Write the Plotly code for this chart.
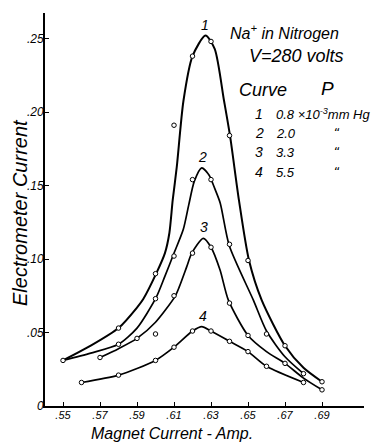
import plotly.graph_objects as go

# Measured points (markers)
c1_x = [0.55, 0.58, 0.60, 0.61, 0.62, 0.63, 0.64, 0.65, 0.67, 0.69]
c1_y = [0.031, 0.053, 0.090, 0.191, 0.238, 0.248, 0.184, 0.099, 0.041, 0.0165]
c2_x = [0.58, 0.60, 0.61, 0.62, 0.63, 0.64, 0.66, 0.68]
c2_y = [0.042, 0.073, 0.102, 0.154, 0.154, 0.110, 0.049, 0.022]
c3_x = [0.57, 0.59, 0.60, 0.61, 0.62, 0.63, 0.64, 0.65, 0.67, 0.69]
c3_y = [0.033, 0.046, 0.049, 0.075, 0.104, 0.108, 0.070, 0.048, 0.029, 0.011]
c4_x = [0.56, 0.58, 0.60, 0.61, 0.62, 0.63, 0.64, 0.65, 0.66, 0.68]
c4_y = [0.016, 0.021, 0.031, 0.040, 0.051, 0.051, 0.044, 0.037, 0.027, 0.016]

# Smooth drawn curves
l1_x = [0.55, 0.565, 0.58, 0.59, 0.5934, 0.6006, 0.6051, 0.6075, 0.6093, 0.6115, 0.6151,
        0.62, 0.627, 0.632, 0.637, 0.6403, 0.6451, 0.6505, 0.6574, 0.67, 0.68, 0.69]
l1_y = [0.031, 0.041, 0.053, 0.067, 0.0728, 0.0907, 0.104, 0.1177, 0.140, 0.1626, 0.2075,
        0.238, 0.252, 0.243, 0.208, 0.1837, 0.140, 0.0993, 0.072, 0.041, 0.026, 0.0165]
l2_x = [0.55, 0.565, 0.58, 0.59, 0.6003, 0.605, 0.6096, 0.615, 0.618, 0.621, 0.625,
        0.629, 0.632, 0.635, 0.6399, 0.6529, 0.66, 0.67, 0.68]
l2_y = [0.031, 0.036, 0.042, 0.053, 0.0737, 0.088, 0.1027, 0.120, 0.137, 0.153, 0.162,
        0.157, 0.148, 0.138, 0.109, 0.072, 0.051, 0.0335, 0.022]
l3_x = [0.57, 0.58, 0.59, 0.60, 0.6105, 0.6129, 0.6169, 0.6196, 0.6258, 0.63, 0.6349,
        0.6394, 0.65, 0.66, 0.67, 0.68, 0.69]
l3_y = [0.033, 0.039, 0.046, 0.057, 0.0744, 0.0812, 0.0948, 0.104, 0.114, 0.108, 0.0925,
        0.072, 0.048, 0.037, 0.029, 0.019, 0.011]
l4_x = [0.56, 0.58, 0.60, 0.61, 0.62, 0.625, 0.63, 0.64, 0.65, 0.66, 0.68]
l4_y = [0.016, 0.021, 0.031, 0.040, 0.051, 0.054, 0.051, 0.044, 0.037, 0.027, 0.016]

curve_labels = ["1", "2", "3", "4"]
pressures = ["0.8 \u00d710<sup>-3</sup>mm Hg", "2.0", "3.3", "5.5"]

x_ticks = [0.55, 0.57, 0.59, 0.61, 0.63, 0.65, 0.67, 0.69]
x_ticktext = [".55", ".57", ".59", ".61", ".63", ".65", ".67", ".69"]
y_ticks = [0, 0.05, 0.10, 0.15, 0.20, 0.25]
y_ticktext = ["0", ".05", ".10", ".15", ".20", ".25"]

FONT = "Liberation Sans Narrow, Liberation Sans, DejaVu Sans"
W, H = 386, 443
L, R, T, B = 45, 22, 13, 37

def px(x):
    return (x - L) / (W - L - R)

def py(y):
    return (H - B - y) / (H - T - B)

fig = go.Figure()
lines = [(l1_x, l1_y, 2.0), (l2_x, l2_y, 1.7), (l3_x, l3_y, 1.7), (l4_x, l4_y, 1.7)]
for lx, ly, w in lines:
    fig.add_trace(go.Scatter(x=lx, y=ly, mode="lines",
                             line=dict(color="black", width=w, shape="spline", smoothing=0.7),
                             hoverinfo="skip", showlegend=False))
for mx, my in [(c1_x, c1_y), (c2_x, c2_y), (c3_x, c3_y), (c4_x, c4_y)]:
    fig.add_trace(go.Scatter(x=mx, y=my, mode="markers",
                             marker=dict(symbol="circle", size=4.5, color="white",
                                         line=dict(width=1, color="black")),
                             showlegend=False))

# curve numbers above peaks
peaks = [(0.627, 0.252), (0.6255, 0.162), (0.626, 0.114), (0.6255, 0.054)]
for lab, (xp, yp) in zip(curve_labels, peaks):
    fig.add_annotation(x=xp, y=yp, text=lab, showarrow=False, yanchor="bottom", yshift=1,
                       font=dict(family=FONT, size=14, color="black", style="italic"))

ann = [
    ("Na<sup>+</sup> in Nitrogen", 228, 32, 16, "left"),
    ("V=280 volts", 247, 56, 18, "left"),
    ("Curve", 237, 90, 18, "left"),
    ("P", 319, 89, 19, "left"),
]
for text, x, y, s, anc in ann:
    fig.add_annotation(xref="paper", yref="paper", x=px(x), y=py(y), text=text,
                       showarrow=False, xanchor=anc, yanchor="middle",
                       font=dict(family=FONT, size=s, color="black", style="italic"))

row_y = [114, 133, 152, 172]
for lab, pv, yy in zip(curve_labels, pressures, row_y):
    fig.add_annotation(xref="paper", yref="paper", x=px(259), y=py(yy), text=lab,
                       showarrow=False, xanchor="center", yanchor="middle",
                       font=dict(family=FONT, size=14, color="black", style="italic"))
    fig.add_annotation(xref="paper", yref="paper", x=px(274), y=py(yy), text=pv,
                       showarrow=False, xanchor="left", yanchor="middle",
                       font=dict(family=FONT, size=13, color="black", style="italic"))
    if lab != "1":
        fig.add_annotation(xref="paper", yref="paper", x=px(337), y=py(yy), text="\u201c",
                           showarrow=False, xanchor="center", yanchor="middle",
                           font=dict(family="DejaVu Sans", size=12, color="black"))

# axis titles
fig.add_annotation(xref="paper", yref="paper", x=px(20), y=py(213), text="Electrometer Current",
                   showarrow=False, textangle=-90, xanchor="center", yanchor="middle",
                   font=dict(family=FONT, size=20, color="black", style="italic"))
fig.add_annotation(xref="paper", yref="paper", x=px(172), y=py(433), text="Magnet Current - Amp.",
                   showarrow=False, xanchor="center", yanchor="middle",
                   font=dict(family=FONT, size=16, color="black", style="italic"))

x0 = 0.55 + (L - 63) / 1850
x1 = 0.55 + (W - R - 63) / 1850
y1 = (H - B - T) / 1470

fig.update_layout(
    width=W, height=H, margin=dict(l=L, r=R, t=T, b=B),
    paper_bgcolor="white", plot_bgcolor="white", showlegend=False,
    xaxis=dict(range=[x0, x1], tickvals=x_ticks, ticktext=x_ticktext, showgrid=False,
               zeroline=False, showline=True, linecolor="black", linewidth=1.5,
               ticks="inside", ticklen=4, tickcolor="black", ticklabelstandoff=-2,
               tickfont=dict(family=FONT, size=11, color="black", style="italic")),
    yaxis=dict(range=[0, y1], tickvals=y_ticks, ticktext=y_ticktext, showgrid=False,
               zeroline=False, showline=True, linecolor="black", linewidth=2,
               ticks="inside", ticklen=4, tickcolor="black", ticklabelstandoff=-3,
               tickfont=dict(family=FONT, size=12, color="black", style="italic")),
)

fig.write_html("out.html")
